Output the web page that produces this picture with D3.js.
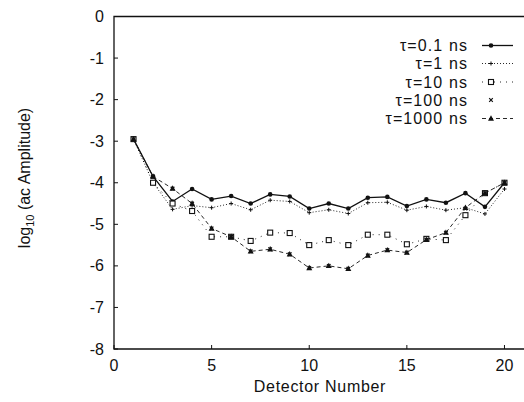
<!DOCTYPE html>
<html>
<head>
<meta charset="utf-8">
<script src="https://cdn.jsdelivr.net/npm/d3@7"></script>
<style>
  body { margin: 0; background: #fff; }
  text { font-family: "Liberation Sans", Arial, sans-serif; fill: #111; }
</style>
</head>
<body>
<svg id="chart" width="524" height="402"></svg>
<script>
// ==========
// CHART DATA
// ==========
var detectors = [1, 2, 3, 4, 5, 6, 7, 8, 9, 10, 11, 12, 13, 14, 15, 16, 17, 18, 19, 20];

var tau01   = [-2.95, -3.85, -4.45, -4.15, -4.40, -4.32, -4.50, -4.28, -4.33, -4.62, -4.50, -4.62, -4.36, -4.34, -4.56, -4.40, -4.48, -4.25, -4.58, -4.00];
var tau1    = [-2.95, -4.00, -4.64, -4.55, -4.60, -4.50, -4.65, -4.42, -4.45, -4.72, -4.65, -4.74, -4.48, -4.47, -4.66, -4.57, -4.66, -4.60, -4.75, -4.15];
var tau10   = [-2.95, -4.00, -4.50, -4.68, -5.30, -5.30, -5.40, -5.20, -5.21, -5.50, -5.38, -5.50, -5.25, -5.25, -5.48, -5.35, -5.38, -4.78, -4.25, -4.00];
var tau100  = [-2.95, -3.85, -4.14, -4.50, -5.10, -5.30, -5.65, -5.60, -5.72, -6.05, -6.00, -6.07, -5.75, -5.62, -5.68, -5.37, -5.20, -4.62, -4.25, -4.00];
var tau1000 = [-2.95, -3.85, -4.14, -4.50, -5.10, -5.30, -5.65, -5.60, -5.72, -6.05, -6.00, -6.07, -5.75, -5.62, -5.68, -5.37, -5.20, -4.60, -4.25, -4.00];

var seriesNames = ["\u03c4=0.1 ns", "\u03c4=1 ns", "\u03c4=10 ns", "\u03c4=100 ns", "\u03c4=1000 ns"];
var xTicks = [0, 5, 10, 15, 20];
var yTicks = [0, -1, -2, -3, -4, -5, -6, -7, -8];

// how each series is drawn
var styles = [
    { values: tau01,   dash: null,  line: true,  marker: "dot" },
    { values: tau1,    dash: "1,2", line: true,  marker: "plus" },
    { values: tau10,   dash: "1,5", line: true,  marker: "square" },
    { values: tau100,  dash: null,  line: false, marker: "cross" },
    { values: tau1000, dash: "4,3", line: true,  marker: "triangle" }
];

// ########
// # MAIN #
// ########
var svg = d3.select("#chart");

var x = d3.scaleLinear().domain([0, 21]).range([114, 524]);
var y = d3.scaleLinear().domain([-8, 0]).range([349, 16.5]);

// frame (top, left, bottom)
svg.append("path")
    .attr("d", "M" + x(21) + "," + y(0) + "H" + x(0) + "V" + y(-8) + "H" + x(21))
    .attr("fill", "none")
    .attr("stroke", "#111")
    .attr("stroke-width", 1.3);

// y ticks + labels
yTicks.forEach(function (t) {
    svg.append("line")
        .attr("x1", x(0)).attr("x2", x(0) + 4)
        .attr("y1", y(t)).attr("y2", y(t))
        .attr("stroke", "#111");
    svg.append("text")
        .attr("x", 104)
        .attr("y", y(t) + 5.5)
        .attr("text-anchor", "end")
        .attr("font-size", "16px")
        .text(t);
});

// x ticks + labels
xTicks.forEach(function (t) {
    svg.append("line")
        .attr("x1", x(t)).attr("x2", x(t))
        .attr("y1", y(-8)).attr("y2", y(-8) - 4)
        .attr("stroke", "#111");
    svg.append("text")
        .attr("x", x(t))
        .attr("y", 371)
        .attr("text-anchor", "middle")
        .attr("font-size", "16px")
        .text(t);
});

svg.append("text")
    .attr("x", 320)
    .attr("y", 392)
    .attr("text-anchor", "middle")
    .attr("font-size", "16px")
    .attr("letter-spacing", "0.7px")
    .text("Detector Number");

var ylab = svg.append("text")
    .attr("transform", "translate(30,178) rotate(-90)")
    .attr("text-anchor", "middle")
    .attr("font-size", "16px");
ylab.append("tspan").text("log");
ylab.append("tspan").attr("font-size", "11px").attr("dy", 4).text("10");
ylab.append("tspan").attr("dy", -4).text(" (ac Amplitude)");

// ####################################
// # draws a marker of given kind
// ####################################
function drawMarker(g, kind, cx, cy) {
    if (kind === "dot") {
        g.append("circle").attr("cx", cx).attr("cy", cy).attr("r", 2.3).attr("fill", "#111");
    } else if (kind === "plus") {
        g.append("path")
            .attr("d", "M" + (cx - 2) + "," + cy + "h4M" + cx + "," + (cy - 2) + "v4")
            .attr("stroke", "#111").attr("stroke-width", 1);
    } else if (kind === "square") {
        g.append("rect").attr("x", cx - 2.5).attr("y", cy - 2.5).attr("width", 5).attr("height", 5)
            .attr("fill", "#fff").attr("stroke", "#111").attr("stroke-width", 1.1);
    } else if (kind === "cross") {
        g.append("path")
            .attr("d", "M" + (cx - 1.8) + "," + (cy - 1.8) + "l3.6,3.6M" + (cx + 1.8) + "," + (cy - 1.8) + "l-3.6,3.6")
            .attr("stroke", "#111").attr("stroke-width", 1.2);
    } else if (kind === "triangle") {
        g.append("path")
            .attr("d", "M" + cx + "," + (cy - 3.2) + "L" + (cx + 3) + "," + (cy + 2.2) + "L" + (cx - 3) + "," + (cy + 2.2) + "Z")
            .attr("fill", "#111");
    }
}

var line = d3.line()
    .x(function (d) { return x(d[0]); })
    .y(function (d) { return y(d[1]); });

styles.forEach(function (s) {
    var pts = detectors.map(function (d, i) { return [d, s.values[i]]; });
    var g = svg.append("g");
    if (s.line) {
        g.append("path")
            .datum(pts)
            .attr("d", line)
            .attr("fill", "none")
            .attr("stroke", "#111")
            .attr("stroke-width", s.dash ? 0.9 : 1.3)
            .attr("stroke-dasharray", s.dash);
    }
    pts.forEach(function (p) {
        drawMarker(g, s.marker, x(p[0]), y(p[1]));
    });
});

// ######
// LEGEND
// ######
var legendRows = [45.5, 63.5, 82, 100, 118.5];
styles.forEach(function (s, i) {
    var ly = legendRows[i];
    svg.append("text")
        .attr("x", 468)
        .attr("y", ly + 5.5)
        .attr("text-anchor", "end")
        .attr("font-size", "16px")
        .attr("letter-spacing", "1.1px")
        .text(seriesNames[i]);
    var g = svg.append("g");
    if (s.line) {
        g.append("line")
            .attr("x1", 482).attr("x2", 513)
            .attr("y1", ly).attr("y2", ly)
            .attr("stroke", "#111")
            .attr("stroke-width", s.dash ? 0.9 : 1.3)
            .attr("stroke-dasharray", s.dash);
    }
    drawMarker(g, s.marker, 491, ly);
});
</script>
</body>
</html>
